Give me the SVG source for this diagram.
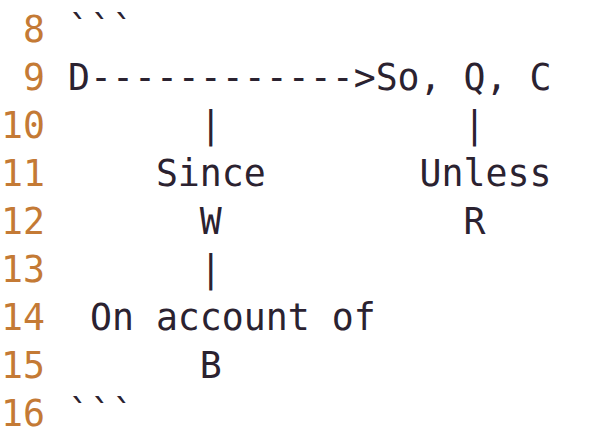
<svg xmlns="http://www.w3.org/2000/svg" width="590" height="438" viewBox="0 0 590 438">
<style>
text{font-family:"DejaVu Sans Mono","Liberation Mono",monospace;font-size:36.5px;white-space:pre}
.n{fill:#c47a35;text-anchor:end}
.c{fill:#2b2230}
</style>
<rect width="590" height="438" fill="#ffffff"/>
<g id="linenumbers">
<text class="n" x="45" y="42">8</text>
<text class="n" x="45" y="90">9</text>
<text class="n" x="45" y="138">10</text>
<text class="n" x="45" y="186">11</text>
<text class="n" x="45" y="234">12</text>
<text class="n" x="45" y="282">13</text>
<text class="n" x="45" y="330">14</text>
<text class="n" x="45" y="378">15</text>
<text class="n" x="45" y="426">16</text>
</g>
<g id="code">
<text class="c" x="68" y="42" xml:space="preserve">```</text>
<text class="c" x="68" y="90" xml:space="preserve">D------------&gt;So, Q, C</text>
<text class="c" x="68" y="138" xml:space="preserve">      |           |</text>
<text class="c" x="68" y="186" xml:space="preserve">    Since       Unless</text>
<text class="c" x="68" y="234" xml:space="preserve">      W           R</text>
<text class="c" x="68" y="282" xml:space="preserve">      |</text>
<text class="c" x="68" y="330" xml:space="preserve"> On account of</text>
<text class="c" x="68" y="378" xml:space="preserve">      B</text>
<text class="c" x="68" y="426" xml:space="preserve">```</text>
</g>
</svg>
